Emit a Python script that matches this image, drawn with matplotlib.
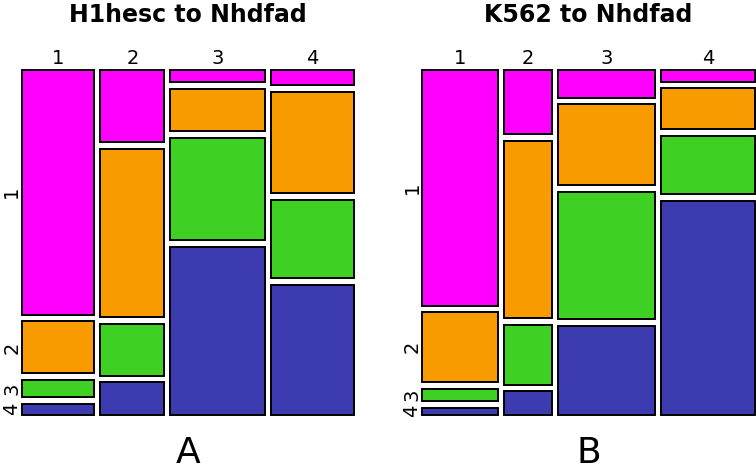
import numpy as np
import matplotlib
matplotlib.use('Agg')
import matplotlib.pyplot as plt

# column shares (source state) and row shares within each column (target state)
states = ['1', '2', '3', '4']
colors = ['#ff00ff', '#f79b00', '#3fd024', '#3c3cb0']

h1_cols = [0.230, 0.204, 0.301, 0.265]
h1_rows = [
    [0.754, 0.160, 0.052, 0.034],
    [0.223, 0.518, 0.159, 0.100],
    [0.039, 0.130, 0.315, 0.517],
    [0.047, 0.312, 0.242, 0.400],
]

k562_cols = [0.241, 0.152, 0.310, 0.297]
k562_rows = [
    [0.726, 0.214, 0.038, 0.022],
    [0.199, 0.545, 0.184, 0.072],
    [0.086, 0.248, 0.393, 0.273],
    [0.037, 0.125, 0.180, 0.658],
]

titles = ['H1hesc to Nhdfad', 'K562 to Nhdfad']
panel_tags = ['A', 'B']

W, H = 756, 473
gx, gy = 0.0191, 0.0206


def mosaic(ax, col_share, row_share, title, tag):
    col_share = np.array(col_share) / np.sum(col_share)
    x = 0.0
    for i, cw in enumerate(col_share):
        rs = np.array(row_share[i]) / np.sum(row_share[i])
        y = 0.0
        for j, rh in enumerate(rs):
            ax.bar(x, rh, width=cw, bottom=y, align='edge', color=colors[j],
                   edgecolor='black', linewidth=1.4, clip_on=False)
            # row labels follow the first column
            if i == 0:
                ax.annotate(states[j], xy=(0, y + rh / 2), xytext=(-3.5, 0),
                            textcoords='offset points', rotation=90,
                            rotation_mode='anchor', ha='center', va='baseline',
                            fontsize=14)
            y += rh + gy
        ax.annotate(states[i], xy=(x + cw / 2, 0), xytext=(0, 4),
                    textcoords='offset points', ha='center', va='baseline',
                    fontsize=14)
        x += cw + gx

    ax.set_xlim(0, 1 + 3 * gx)
    ax.set_ylim(1 + 3 * gy, 0)
    ax.axis('off')
    ax.text(0.5, 1 + (69.7 - 22) / 345, title, transform=ax.transAxes,
            ha='center', va='baseline', fontsize=17, fontweight='bold')
    ax.text(0.5, -(463 - 414.7) / 345, tag, transform=ax.transAxes,
            ha='center', va='baseline', fontsize=26)


fig = plt.figure(figsize=(W / 100, H / 100), dpi=100, facecolor='white')
ax1 = fig.add_axes([22 / W, 1 - 414.7 / H, 332.3 / W, 345 / H])
ax2 = fig.add_axes([422.3 / W, 1 - 414.7 / H, 332.3 / W, 345 / H])

mosaic(ax1, h1_cols, h1_rows, titles[0], panel_tags[0])
mosaic(ax2, k562_cols, k562_rows, titles[1], panel_tags[1])

plt.savefig('out.png', dpi=100, facecolor='white')
plt.close(fig)
